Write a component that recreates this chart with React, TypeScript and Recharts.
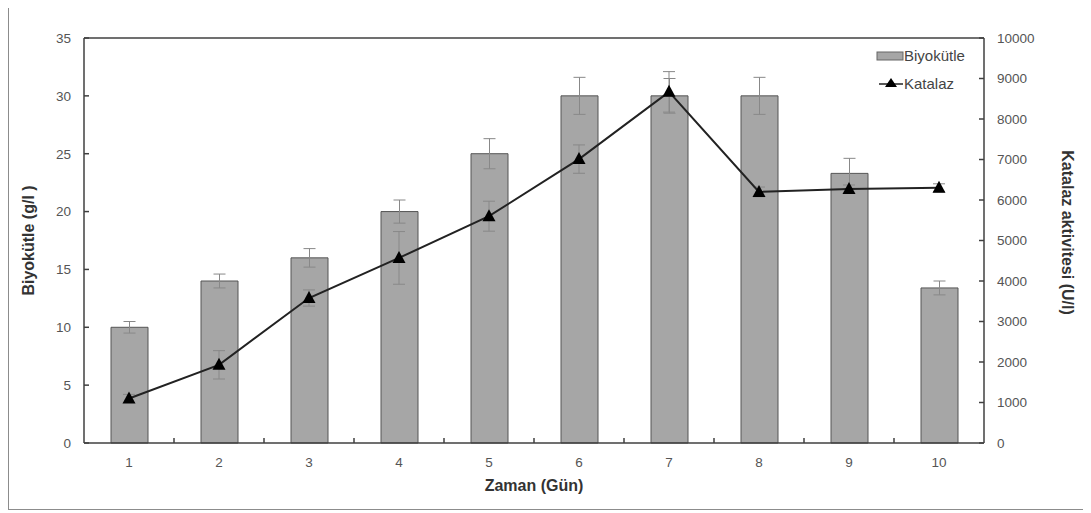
import React from 'react';
import { ComposedChart, Bar, Line, XAxis, YAxis, ErrorBar, ReferenceLine, Label } from 'recharts';

const days = ['1', '2', '3', '4', '5', '6', '7', '8', '9', '10'];
const biomass = [10, 14, 16, 20, 25, 30, 30, 30, 23.3, 13.4];
const biomassErr = [0.5, 0.6, 0.8, 1.0, 1.3, 1.6, 1.5, 1.6, 1.3, 0.6];
const catalase = [1100, 1930, 3580, 4570, 5600, 7010, 8670, 6200, 6270, 6300];
const catalaseErr = [100, 350, 200, 650, 370, 350, 500, 120, 100, 100];
const leftTicks = [0, 5, 10, 15, 20, 25, 30, 35];
const rightTicks = [0, 1000, 2000, 3000, 4000, 5000, 6000, 7000, 8000, 9000, 10000];

const data = days.map((d, i) => ({
  day: d,
  biomass: biomass[i],
  biomassErr: biomassErr[i],
  catalase: catalase[i],
  catalaseErr: catalaseErr[i],
}));

const FONT = '"Liberation Sans", Arial, sans-serif';
const AXIS = '#404040';

const Triangle = (props: any) => {
  const { cx, cy } = props;
  if (cx == null || cy == null) return null;
  return <polygon points={`${cx},${cy - 7} ${cx - 6.5},${cy + 5} ${cx + 6.5},${cy + 5}`} fill="#000" />;
};

const XTick = (props: any) => {
  const { x, y, payload, index } = props;
  const half = 45;
  return (
    <g>
      <text x={x} y={y + 24} textAnchor="middle" fontSize={13.5} fill="#555" fontFamily={FONT}>
        {payload.value}
      </text>
      {index < days.length - 1 && (
        <line x1={x + half} x2={x + half} y1={y} y2={y - 5} stroke={AXIS} strokeWidth={1.5} />
      )}
    </g>
  );
};

const LegendBox = () => (
  <svg width={110} height={50} style={{ position: 'absolute', left: 868, top: 43, overflow: 'visible' }}>
    <rect x={0} y={4} width={26} height={8} fill="#a6a6a6" stroke="#666" strokeWidth={1} />
    <text x={27} y={13} fontSize={15} fill="#444" fontFamily={FONT}>Biyokütle</text>
    <line x1={2} x2={26} y1={36} y2={36} stroke="#222" strokeWidth={1.5} />
    <polygon points="14,30 8,39 20,39" fill="#000" />
    <text x={27} y={41} fontSize={15} fill="#444" fontFamily={FONT}>Katalaz</text>
  </svg>
);

export default function App() {
  return (
    <div
      style={{
        position: 'relative',
        top: -4,
        width: 1076,
        height: 506,
        border: '1px solid #8c8c8c',
        boxSizing: 'border-box',
        background: '#fff',
      }}
    >
      <ComposedChart
        width={1074}
        height={504}
        data={data}
        margin={{ top: 33, right: 0, left: 0, bottom: 0 }}
        barCategoryGap={0}
      >
        <XAxis
          dataKey="day"
          xAxisId="x"
          height={66}
          interval={0}
          tickLine={false}
          tickSize={0}
          tickMargin={0}
          tick={<XTick />}
          axisLine={{ stroke: AXIS, strokeWidth: 1.5 }}
        >
          <Label
            content={(p: any) => {
              const vb = p.viewBox;
              return (
                <text x={vb.x + vb.width / 2} y={vb.y + 48} textAnchor="middle" fontSize={16} fontWeight="bold" fill="#333" fontFamily={FONT}>
                  Zaman (Gün)
                </text>
              );
            }}
          />
        </XAxis>
        <YAxis
          yAxisId="left"
          orientation="left"
          width={75}
          domain={[0, 35]}
          ticks={leftTicks}
          interval={0}
          tickSize={-5}
          tickMargin={18}
          tick={{ fontSize: 13.5, fill: '#555', fontFamily: FONT }}
          tickLine={{ stroke: AXIS, strokeWidth: 1.5 }}
          axisLine={{ stroke: AXIS, strokeWidth: 1.5 }}
        >
          <Label
            content={(p: any) => {
              const vb = p.viewBox;
              const cx = vb.x + 19;
              const cy = vb.y + vb.height / 2;
              return (
                <text x={cx} y={cy} transform={`rotate(-90 ${cx} ${cy})`} textAnchor="middle" dominantBaseline="central" fontSize={16} fontWeight="bold" fill="#333" fontFamily={FONT}>
                  Biyokütle (g/l )
                </text>
              );
            }}
          />
        </YAxis>
        <YAxis
          yAxisId="right"
          orientation="right"
          width={99}
          domain={[0, 10000]}
          ticks={rightTicks}
          interval={0}
          tickSize={-5}
          tickMargin={18}
          tick={{ fontSize: 13.5, fill: '#555', fontFamily: FONT }}
          tickLine={{ stroke: AXIS, strokeWidth: 1.5 }}
          axisLine={{ stroke: AXIS, strokeWidth: 1.5 }}
        >
          <Label
            content={(p: any) => {
              const vb = p.viewBox;
              const cx = vb.x + 83;
              const cy = vb.y + vb.height / 2 - 8;
              return (
                <text x={cx} y={cy} transform={`rotate(90 ${cx} ${cy})`} textAnchor="middle" dominantBaseline="central" fontSize={16} fontWeight="bold" fill="#333" fontFamily={FONT}>
                  Katalaz aktivitesi (U/l)
                </text>
              );
            }}
          />
        </YAxis>
        <ReferenceLine yAxisId="left" xAxisId="x" y={35} stroke={AXIS} strokeWidth={1.5} />
        <Bar
          dataKey="biomass"
          xAxisId="x"
          yAxisId="left"
          barSize={37}
          fill="#a6a6a6"
          stroke="#555"
          strokeWidth={1}
          isAnimationActive={false}
        >
          <ErrorBar dataKey="biomassErr" width={6} stroke="#888" strokeWidth={1} />
        </Bar>
        <Line
          dataKey="catalase"
          xAxisId="x"
          yAxisId="right"
          type="linear"
          stroke="#222"
          strokeWidth={2}
          dot={<Triangle />}
          activeDot={false}
          isAnimationActive={false}
        >
          <ErrorBar dataKey="catalaseErr" width={6} stroke="#888" strokeWidth={1} />
        </Line>
      </ComposedChart>
      <LegendBox />
    </div>
  );
}
